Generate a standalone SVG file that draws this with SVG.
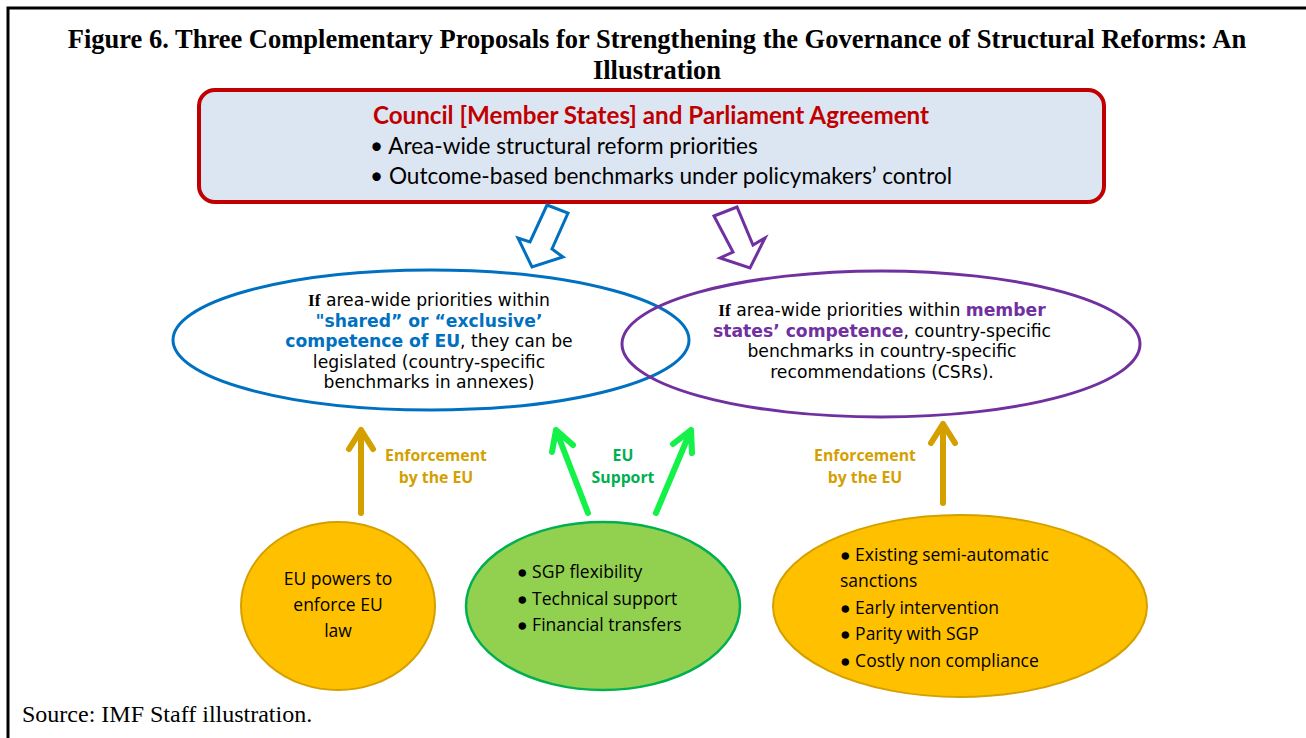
<svg xmlns="http://www.w3.org/2000/svg" width="1306" height="738" viewBox="0 0 1306 738">
<style>
.title{font-family:"Liberation Serif",serif;font-weight:bold;font-size:26.5px;fill:#000}
.cal{font-family:Lato,"Liberation Sans",sans-serif}
.seg{font-family:"Open Sans","Liberation Sans",sans-serif}
.ell{font-family:"DejaVu Sans","Open Sans",sans-serif;font-size:17.2px;fill:#000}
.lab{font-size:15.8px;font-weight:bold}
.gold{fill:#D4A000}
.bot{font-size:17.5px;fill:#000}
.garr{stroke:#D4A000;stroke-width:6;fill:none;stroke-linecap:round;stroke-linejoin:round}
.grn{stroke:#14F24A;stroke-width:6;fill:none;stroke-linecap:round;stroke-linejoin:round}
</style>
<rect width="1306" height="738" fill="#fff"/>
<path d="M8 740 V8 H1306" fill="none" stroke="#000" stroke-width="3"/>
<text class="title" x="657" y="48" text-anchor="middle">Figure 6. Three Complementary Proposals for Strengthening the Governance of Structural Reforms: An</text>
<text class="title" x="657" y="79" text-anchor="middle">Illustration</text>

<g id="agreement">
<rect x="199" y="90" width="905" height="112" rx="16" fill="#DCE6F2" stroke="#C00000" stroke-width="4"/>
<text class="cal" x="651" y="124" text-anchor="middle" font-size="24.2" font-weight="bold" fill="#C00000">Council [Member States] and Parliament Agreement</text>
<text class="cal" x="370" y="154" font-size="22.6" fill="#000">•  Area-wide structural reform priorities</text>
<text class="cal" x="370" y="184" font-size="22.6" fill="#000">•  Outcome-based benchmarks under policymakers’ control</text>
</g>

<g id="eu-competence">
<ellipse cx="431" cy="340" rx="258" ry="70" fill="none" stroke="#0070C0" stroke-width="3"/>
<text class="ell" text-anchor="middle"><tspan x="429" y="306"><tspan font-family="Liberation Serif,serif" font-weight="bold">If</tspan> area-wide priorities within</tspan><tspan x="429" y="326.5" font-weight="bold" fill="#0070C0">"shared”  or “exclusive’</tspan><tspan x="429" y="347"><tspan font-weight="bold" fill="#0070C0">competence of  EU</tspan>, they can be</tspan><tspan x="429" y="367.5">legislated (country-specific</tspan><tspan x="429" y="388">benchmarks in annexes)</tspan></text>
</g>

<g id="member-competence">
<ellipse cx="881" cy="344" rx="259" ry="73" fill="none" stroke="#7030A0" stroke-width="3"/>
<text class="ell" text-anchor="middle"><tspan x="882" y="316"><tspan font-family="Liberation Serif,serif" font-weight="bold">If</tspan> area-wide priorities within <tspan font-weight="bold" fill="#7030A0">member</tspan></tspan><tspan x="882" y="336.5"><tspan font-weight="bold" fill="#7030A0">states’ competence</tspan>,  country-specific</tspan><tspan x="882" y="357">benchmarks in country-specific</tspan><tspan x="882" y="377.5">recommendations (CSRs).</tspan></text>
</g>

<g id="eu-powers">
<ellipse cx="338" cy="606" rx="97" ry="84" fill="#FFC000" stroke="#D4A000" stroke-width="2"/>
<text class="seg bot" text-anchor="middle" font-size="18.5"><tspan x="338" y="585">EU  powers to</tspan><tspan x="338" y="611">enforce EU</tspan><tspan x="338" y="637">law</tspan></text>
</g>

<g id="eu-support-box">
<ellipse cx="603" cy="606" rx="137" ry="84" fill="#92D050" stroke="#00B050" stroke-width="2.5"/>
<text class="seg bot"><tspan x="517" y="578">● SGP flexibility</tspan><tspan x="517" y="605">● Technical support</tspan><tspan x="517" y="631">● Financial transfers</tspan></text>
</g>

<g id="sanctions">
<ellipse cx="960" cy="606" rx="187" ry="91" fill="#FFC000" stroke="#D4A000" stroke-width="2"/>
<text class="seg bot" font-size="18.8"><tspan x="840" y="561">● Existing semi-automatic</tspan><tspan x="840" y="587">sanctions</tspan><tspan x="840" y="614">● Early intervention</tspan><tspan x="840" y="640">● Parity with SGP</tspan><tspan x="840" y="667">● Costly non compliance</tspan></text>
</g>

<g id="connectors">
<polygon points="547,205 568,213 552,249 563,257 532,267 518,238 530,242" fill="#fff" stroke="#0070C0" stroke-width="3"/>
<polygon points="714,216 737,207 753,245 765,238 750,268 720,258 733,252" fill="#fff" stroke="#7030A0" stroke-width="3"/>
<path class="garr" d="M361 513 V430 M349 449 L361 430 L373 449"/>
<path class="garr" d="M943 503 V424 M931 443 L943 424 L955 443"/>
<path class="grn" d="M588 513 L556 430 M552 452 L556 430 L573 445"/>
<path class="grn" d="M656 513 L691 430 M673 444 L691 430 L692 453"/>
</g>

<g id="labels">
<text class="seg lab gold" text-anchor="middle"><tspan x="436" y="461">Enforcement</tspan><tspan x="436" y="483">by the EU</tspan></text>
<text class="seg lab gold" text-anchor="middle"><tspan x="865" y="461">Enforcement</tspan><tspan x="865" y="483">by the EU</tspan></text>
<text class="seg lab" fill="#00B050" text-anchor="middle"><tspan x="623" y="461">EU</tspan><tspan x="623" y="483">Support</tspan></text>
</g>

<text x="22" y="722" font-family="Liberation Serif,serif" font-size="24" fill="#000">Source: IMF Staff illustration.</text>
</svg>
